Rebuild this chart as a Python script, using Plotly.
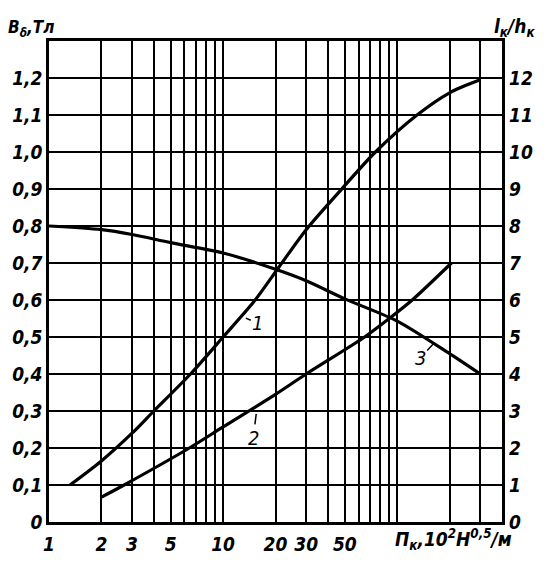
import math
import plotly.graph_objects as go

# Curve 1 (right axis l_k/h_k)
c1_x = [1.32, 2, 3, 4, 6.5, 10, 15, 21, 30, 47, 75, 130, 200, 300]
c1_y = [1.0, 1.65, 2.4, 3.0, 4.0, 5.0, 5.95, 6.9, 7.9, 8.95, 10.0, 11.0, 11.6, 11.95]
# Curve 2 (right axis)
c2_x = [2, 2.7, 6.4, 10, 20, 30, 65, 90, 122, 205]
c2_y = [0.67, 1.0, 2.0, 2.57, 3.45, 4.0, 5.0, 5.5, 6.0, 7.0]
# Curve 3 (left axis B_delta)
c3_x = [1, 2, 3, 5, 10, 20, 30, 50, 100, 200, 300]
c3_y = [0.80, 0.79, 0.777, 0.755, 0.727, 0.683, 0.652, 0.603, 0.543, 0.455, 0.40]

x_major = [1, 2, 3, 5, 10, 20, 30, 50]
x_minor = [4, 6, 7, 8, 9, 40, 60, 70, 80, 90, 100, 200, 300]
y_left_vals = [0, 0.1, 0.2, 0.3, 0.4, 0.5, 0.6, 0.7, 0.8, 0.9, 1.0, 1.1, 1.2]
y_left_text = ["0", "0,1", "0,2", "0,3", "0,4", "0,5", "0,6", "0,7", "0,8", "0,9", "1,0", "1,1", "1,2"]
y_right_vals = list(range(0, 13))

FONT = "Liberation Sans Narrow, DejaVu Sans Condensed, Arial Narrow, sans-serif"
tf = dict(family=FONT, size=19, color="black", style="italic", weight="bold")

line = dict(color="black", width=3.2, shape="spline", smoothing=0.8)
fig = go.Figure()
fig.add_trace(go.Scatter(x=c1_x, y=c1_y, mode="lines", line=line, yaxis="y2", showlegend=False))
fig.add_trace(go.Scatter(x=c2_x, y=c2_y, mode="lines", line=line, yaxis="y2", showlegend=False))
fig.add_trace(go.Scatter(x=c3_x, y=c3_y, mode="lines", line=line, yaxis="y", showlegend=False))

fig.update_layout(
    width=557, height=570,
    margin=dict(l=49, r=55, t=41, b=48),
    paper_bgcolor="white", plot_bgcolor="white",
    xaxis=dict(type="log", range=[0, 2.602], tickvals=x_major, ticktext=[str(v) for v in x_major],
               automargin=False,
               showgrid=True, gridcolor="black", gridwidth=1.5, zeroline=False,
               showline=True, linecolor="black", linewidth=2.5, mirror=True,
               ticks="", tickfont=tf, ticklabelstandoff=3,
               minor=dict(tickvals=x_minor, showgrid=True, gridcolor="black", gridwidth=1.5, ticks="")),
    yaxis=dict(range=[0, 1.3], tickvals=y_left_vals, ticktext=y_left_text, automargin=False,
               showgrid=True, gridcolor="black", gridwidth=1.5, zeroline=False,
               showline=True, linecolor="black", linewidth=2.5, mirror=True,
               ticks="", tickfont=tf, ticklabelstandoff=0),
    yaxis2=dict(range=[0, 13], tickvals=y_right_vals, overlaying="y", side="right",
                automargin=False,
                showgrid=False, zeroline=False, showline=False,
                ticks="", tickfont=tf, ticklabelstandoff=6),
)

ann_font = dict(family=FONT, size=17, color="black", style="italic", weight="bold")
fig.add_annotation(x=0, y=1, xref="paper", yref="paper", xanchor="left", yanchor="bottom",
                   xshift=-43, yshift=-1, text="B<sub>δ</sub>,Тл", showarrow=False, font=ann_font)
fig.add_annotation(x=1, y=1, xref="paper", yref="paper", xanchor="right", yanchor="bottom",
                   xshift=35, yshift=-1, text="l<sub>к</sub>/h<sub>к</sub>", showarrow=False,
                   font=dict(ann_font, size=19))
fig.add_annotation(x=1, y=0, xref="paper", yref="paper", xanchor="right", yanchor="top",
                   xshift=12, yshift=-2, text="П<sub>к</sub>,10<sup>2</sup>Н<sup>0,5</sup>/м",
                   showarrow=False, font=dict(ann_font, size=19))

lab_font = dict(family=FONT, size=20, color="black", style="italic")
arrow = dict(showarrow=True, arrowhead=0, arrowwidth=1.5, arrowcolor="black", font=lab_font)
fig.add_annotation(x=math.log10(13.5), y=5.51, yref="y2", text="1", ax=12, ay=5, **arrow)
fig.add_annotation(x=math.log10(15.5), y=2.92, yref="y2", text="2", ax=-3, ay=24, **arrow)
fig.add_annotation(x=math.log10(161), y=0.481, yref="y", text="3", ax=-13, ay=14, **arrow)

fig.write_html("out.html", config={"displayModeBar": False},
               post_script="document.body.style.margin='0';")
